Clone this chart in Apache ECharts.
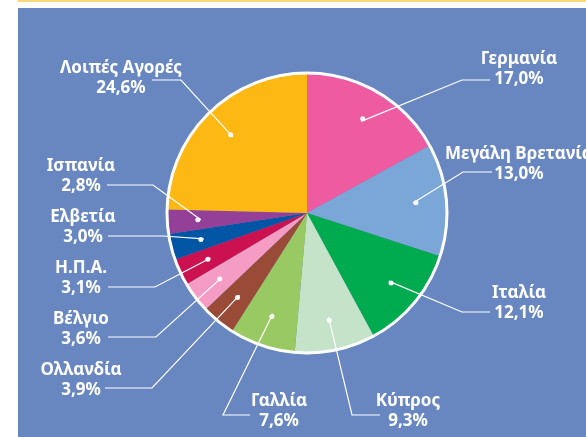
<!DOCTYPE html>
<html>
<head>
<meta charset="utf-8">
<script src="https://cdn.jsdelivr.net/npm/echarts@6/dist/echarts.min.js"></script>
<style>
  html, body { margin: 0; padding: 0; background: #fff; }
  #wrap { position: relative; width: 586px; height: 437px; overflow: hidden; }
  #panel { position: absolute; left: 18px; top: 8px; right: 0; bottom: 0; background: #6886c0; }
  #topline { position: absolute; left: 18px; top: 0; right: 0; height: 2px; background: #f9d67a; }
  #chart { position: absolute; left: 0; top: 0; width: 586px; height: 437px; }
</style>
</head>
<body>
<div id="wrap">
  <div id="topline"></div>
  <div id="panel"></div>
  <div id="chart"></div>
</div>
<script>
// market shares, clockwise from 12 o'clock
const categories = ['Γερμανία', 'Μεγάλη Βρετανία', 'Ιταλία', 'Κύπρος', 'Γαλλία', 'Ολλανδία',
    'Βέλγιο', 'Η.Π.Α.', 'Ελβετία', 'Ισπανία', 'Λοιπές Αγορές'];
const shares = [17.0, 13.0, 12.1, 9.3, 7.6, 3.9, 3.6, 3.1, 3.0, 2.8, 24.6];

const colors = ['#ee5ba0', '#7ba6d8', '#00aa4f', '#c5e3c9', '#99c962', '#9a4b37',
    '#f49cc4', '#cc1150', '#0055a4', '#943f98', '#fdb813'];

// label placement: [centre x, middle y] and leader line [knee x, y, end x]
const labelAnchors = [[519, 69], [519, 164], [519, 303], [408, 411], [279, 411], [81, 380],
    [81, 329], [81, 278], [83, 227], [81, 176], [121, 78]];
const labelKnees = [[462, 80, 490], [463, 172, 492], [462, 312, 490], [352, 415, 380], [223, 415, 250],
    [152, 388, 105], [156, 337, 108], [155, 287, 108], [163, 236, 108], [153, 185, 107], [181, 80, 152]];

const CX = 307, CY = 213, R = 140, DOT = 0.76;
const total = shares.reduce((a, b) => a + b, 0);

const dotPoint = (i) => {
    let before = 0;
    for (let j = 0; j < i; j++) before += shares[j];
    const a = (before + shares[i] / 2) / total * Math.PI * 2;
    return [CX + DOT * R * Math.sin(a), CY - DOT * R * Math.cos(a)];
};

const fmt = (v) => v.toFixed(1).replace('.', ',') + '%';

const chart = echarts.init(document.getElementById('chart'), null, { renderer: 'canvas' });

const clear = { color: 'rgba(0,0,0,0)' };

chart.setOption({
    backgroundColor: 'transparent',
    animation: false,
    series: [
        {
            // the slices
            type: 'pie',
            z: 1,
            center: [CX, CY],
            radius: [0, R],
            startAngle: 90,
            clockwise: true,
            silent: true,
            label: { show: false },
            labelLine: { show: false },
            data: categories.map((name, i) => ({ name, value: shares[i], itemStyle: { color: colors[i] } }))
        },
        {
            // white outer rim
            type: 'pie',
            z: 2,
            center: [CX, CY],
            radius: [0, R],
            silent: true,
            label: { show: false },
            labelLine: { show: false },
            itemStyle: { color: 'rgba(0,0,0,0)', borderColor: '#fff', borderWidth: 3 },
            data: [{ value: 1, name: 'rim' }]
        },
        {
            // texts and leader lines, drawn over the slices
            type: 'pie',
            z: 3,
            center: [CX, CY],
            radius: [0, R],
            startAngle: 90,
            clockwise: true,
            avoidLabelOverlap: false,
            silent: true,
            itemStyle: clear,
            data: categories.map((name, i) => ({ name, value: shares[i] })),
            label: {
                show: true,
                position: 'outside',
                formatter: (p) => p.name + '\n' + fmt(p.value),
                color: '#fff',
                fontFamily: 'Noto Sans',
                fontWeight: 'bold',
                fontSize: 17,
                lineHeight: 20,
                align: 'center'
            },
            labelLine: {
                show: true,
                lineStyle: { color: '#fff', width: 1.2 }
            },
            labelLayout: (params) => {
                const i = params.dataIndex;
                const k = labelKnees[i];
                return {
                    x: labelAnchors[i][0],
                    y: labelAnchors[i][1],
                    align: 'center',
                    verticalAlign: 'middle',
                    labelLinePoints: [dotPoint(i), [k[0], k[1]], [k[2], k[1]]]
                };
            }
        },
        {
            // anchor dots at the leader line starts
            type: 'pie',
            z: 4,
            center: [CX, CY],
            radius: [0, 2 * DOT * R],
            startAngle: 90,
            clockwise: true,
            silent: true,
            itemStyle: clear,
            label: {
                show: true,
                position: 'inside',
                formatter: ' ',
                fontSize: 1,
                width: 1,
                height: 1,
                padding: 2,
                backgroundColor: '#fff',
                borderRadius: 3
            },
            labelLine: { show: false },
            data: categories.map((name, i) => ({ name, value: shares[i] }))
        }
    ]
});
</script>
</body>
</html>
